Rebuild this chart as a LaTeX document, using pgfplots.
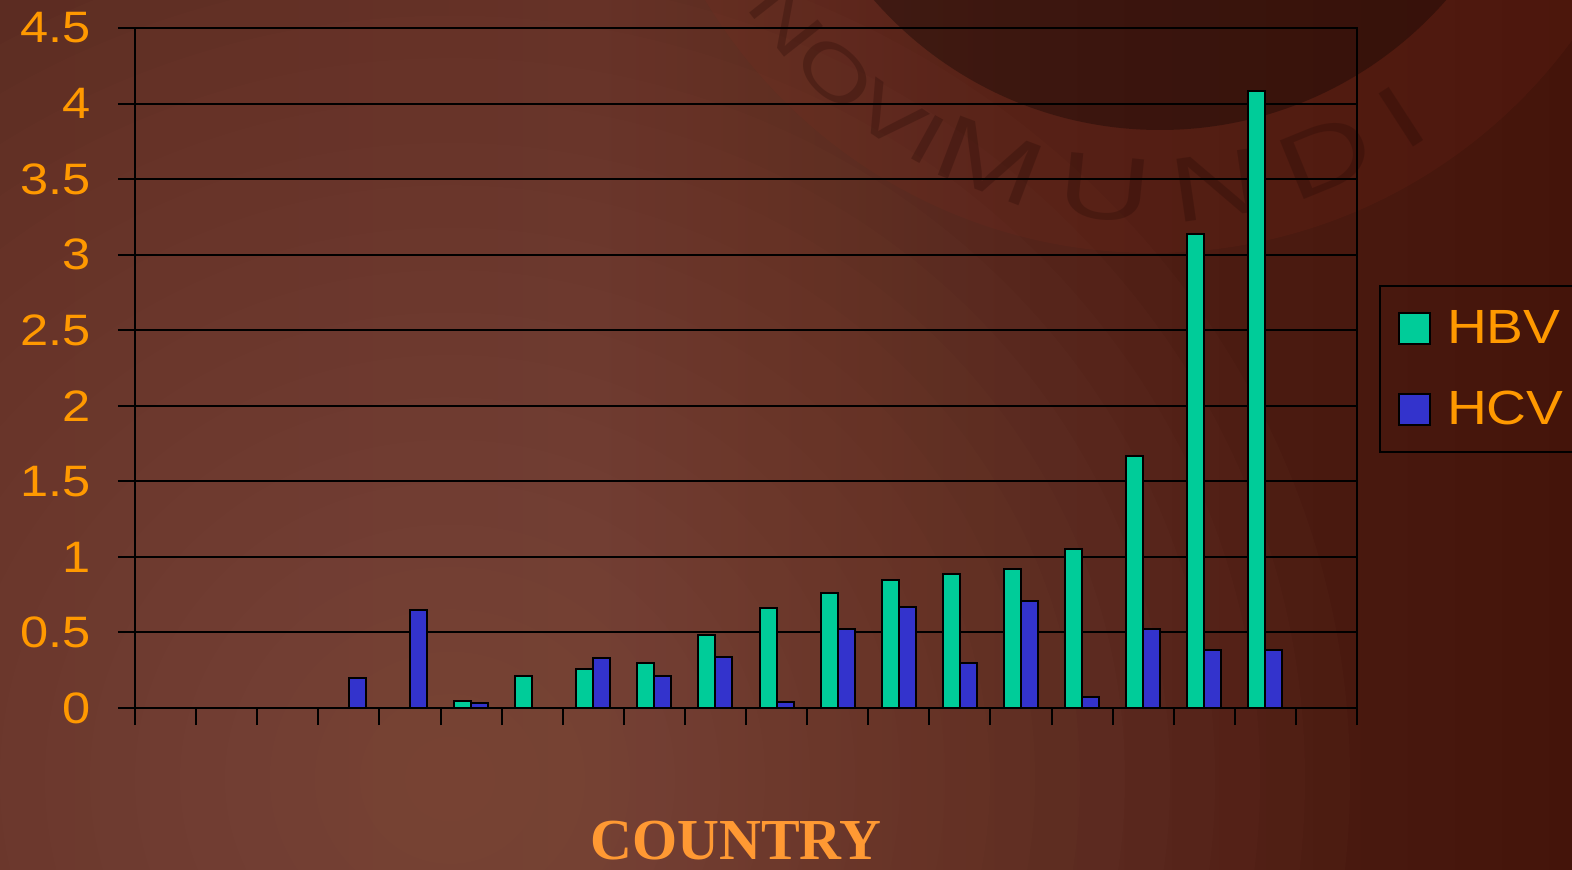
\documentclass[border=0pt]{standalone}
\usepackage{fontspec}
\setmainfont{Liberation Sans}
\newfontfamily\widesans[FakeStretch=1.15]{Liberation Sans}
\newfontfamily\sealfont[FakeStretch=1.4]{Liberation Sans}
\newfontfamily\serifbold{Liberation Serif}
\usepackage{pgfplots}
\pgfplotsset{compat=1.18}
\usetikzlibrary{decorations.text}
\definecolor{tickor}{RGB}{255,153,0}
\definecolor{titleor}{RGB}{255,153,51}
\definecolor{hbv}{RGB}{0,204,153}
\definecolor{hcv}{RGB}{51,51,204}
\definecolor{bgA}{RGB}{92,44,34}
\definecolor{bgB}{RGB}{98,48,37}
\definecolor{bgC}{RGB}{80,32,22}
\definecolor{bgD}{RGB}{68,20,10}
\definecolor{glow}{RGB}{140,85,70}
\definecolor{ring}{RGB}{140,45,30}
\definecolor{engrave}{RGB}{35,8,4}
\pgfdeclarehorizontalshading{bgh}{100bp}{color(0bp)=(bgA); color(25bp)=(bgA); color(44bp)=(bgB); color(57bp)=(bgC); color(75bp)=(bgD); color(100bp)=(bgD)}
\begin{document}
\begin{tikzpicture}
\useasboundingbox (0,0) rectangle (786pt,434.5pt);
\begin{scope}
\clip (0,0) rectangle (786pt,434.5pt);
\shade[shading=bgh] (0,0) rectangle (786pt,434.5pt);
\foreach \k in {1,...,20} {\fill[glow, opacity=0.05] (225pt,45pt) ellipse ({22.5pt*\k} and {21.2pt*\k});}
\fill[ring, opacity=0.12] (576pt,568.5pt) circle (260.5pt);
\fill[black, opacity=0.3] (580pt,559.5pt) circle (190pt);
\begin{scope}[opacity=0.28]
\path[decorate, decoration={text along path, text align=fit to path, text color=engrave,
  text={|\sealfont\fontsize{36}{36}\selectfont|NOVI}}]
  (576pt,568.5pt) ++(214:245pt) arc (214:242:245pt);
\path[decorate, decoration={text along path, text align=fit to path, text color=engrave,
  text={|\sealfont\fontsize{46}{46}\selectfont|MUNDI}}]
  (576pt,568.5pt) ++(243:245pt) arc (243:305:245pt);
\end{scope}
\end{scope}
\begin{axis}[
  at={(67.5pt,80.5pt)}, anchor=south west,
  scale only axis, width=611pt, height=340pt,
  ybar=0pt, bar width=8.5pt,
  xmin=-0.5, xmax=19.5, ymin=0, ymax=4.5,
  xtick={-0.5,0.5,...,19.5}, xticklabels={},
  ytick={0,0.5,...,4.5},
  tick align=outside, tick pos=left,
  major tick length=8.5pt,
  axis line style={black, line width=1pt},
  every tick/.style={black, line width=1pt},
  ymajorgrids, grid style={black, line width=1pt},
  /pgf/number format/assume math mode=true,
  yticklabel style={font=\widesans\fontsize{22}{22}\selectfont, text=tickor, xshift=-10pt},
  xlabel={COUNTRY},
  xlabel style={font=\serifbold\bfseries\fontsize{29}{29}\selectfont, text=titleor, at={(axis description cs:0.4918,0)}, anchor=base, yshift=-75.5pt, text depth=0pt, inner sep=0pt},
  legend style={at={(1.018,0.622)}, anchor=north west, draw=black, line width=1pt, fill=none,
    font=\widesans\fontsize{24}{24}\selectfont, text=tickor, inner xsep=9pt, inner ysep=10pt,
    row sep=18.5pt, nodes={inner sep=2pt}, /tikz/every odd column/.append style={column sep=6pt}},
  legend image code/.code={\draw[#1, draw=black, line width=1pt] (0pt,-7.75pt) rectangle (15.5pt,7.75pt);},
  legend cell align=left,
]
\addplot[fill=hbv, draw=black, line width=1pt] coordinates {
(5,0.045) (6,0.21) (7,0.26) (8,0.30) (9,0.48) (10,0.66) (11,0.76) (12,0.85) (13,0.89) (14,0.92) (15,1.05) (16,1.67) (17,3.14) (18,4.08)};
\addplot[fill=hcv, draw=black, line width=1pt] coordinates {
(3,0.20) (4,0.65) (5,0.03) (7,0.33) (8,0.21) (9,0.34) (10,0.04) (11,0.52) (12,0.67) (13,0.30) (14,0.71) (15,0.07) (16,0.52) (17,0.385) (18,0.385)};
\legend{HBV,HCV}
\end{axis}
\end{tikzpicture}
\end{document}
